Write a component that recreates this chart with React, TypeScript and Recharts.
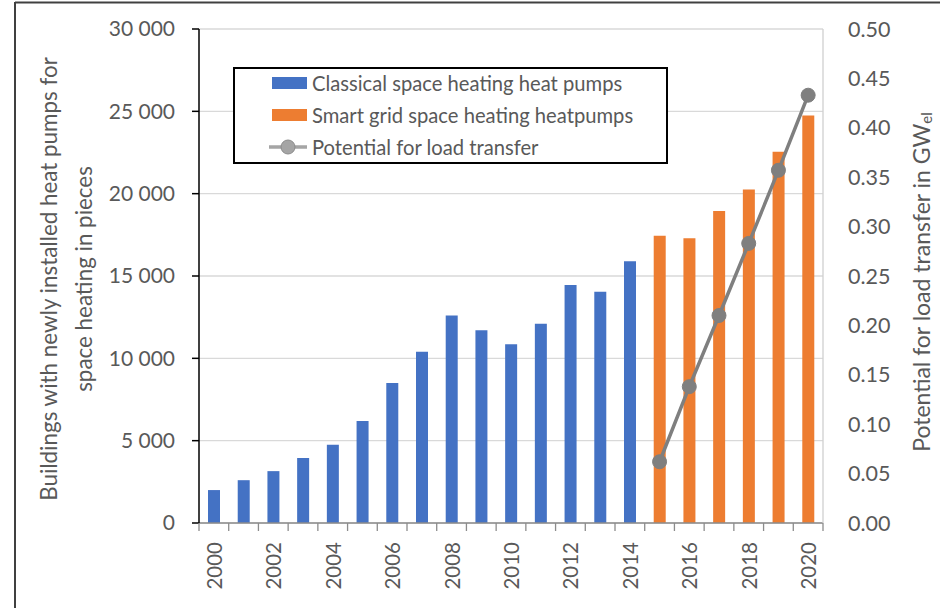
import React from 'react';
import { ComposedChart, Bar, Line, XAxis, YAxis, CartesianGrid, Legend } from 'recharts';

const years = ['2000', '2001', '2002', '2003', '2004', '2005', '2006', '2007', '2008', '2009', '2010', '2011', '2012', '2013', '2014', '2015', '2016', '2017', '2018', '2019', '2020'];
const classical = [2000, 2600, 3150, 3950, 4750, 6200, 8500, 10400, 12600, 11700, 10850, 12100, 14450, 14050, 15900, null, null, null, null, null, null];
const smartGrid = [null, null, null, null, null, null, null, null, null, null, null, null, null, null, null, 17450, 17300, 18950, 20250, 22550, 24750];
const loadTransfer = [null, null, null, null, null, null, null, null, null, null, null, null, null, null, null, 0.062, 0.138, 0.21, 0.283, 0.357, 0.433];
const leftTicks = [0, 5000, 10000, 15000, 20000, 25000, 30000];
const rightTicks = [0, 0.05, 0.1, 0.15, 0.2, 0.25, 0.3, 0.35, 0.4, 0.45, 0.5];
const legendLabels = ['Classical space heating heat pumps', 'Smart grid space heating heatpumps', 'Potential for load transfer'];
const leftTitle = ['Buildings with newly installed heat pumps for', 'space heating in pieces'];
const rightTitle = 'Potential for load transfer in GW';
const rightTitleSub = 'el';

const BLUE = '#4472C4';
const ORANGE = '#ED7D31';
const GREY = '#7f7f7f';
const TEXT = '#595959';
const FONT = 'Lato, "Open Sans", sans-serif';

const data = years.map((y, i) => ({
  year: y,
  classical: classical[i],
  smart: smartGrid[i],
  load: loadTransfer[i],
}));

const fmtLeft = (v: number) => {
  if (v === 0) return '0';
  const th = Math.floor(v / 1000);
  const rest = String(v % 1000).padStart(3, '0');
  return `${th} ${rest}`;
};

const XTick = (props: any) => {
  const { x, y, payload, index } = props;
  const half = payload && payload.offset ? payload.offset : 624 / 21 / 2;
  const isLast = index === years.length - 1;
  const showLabel = Number(payload.value) % 2 === 0;
  const ty = y + 19;
  return (
    <g>
      <line x1={x - half} x2={x - half} y1={y} y2={y + 8} stroke="#8c8c8c" strokeWidth={1.3} />
      {isLast && <line x1={x + half} x2={x + half} y1={y} y2={y + 8} stroke="#8c8c8c" strokeWidth={1.3} />}
      {showLabel && (
        <text
          x={x}
          y={ty}
          transform={`rotate(-90, ${x}, ${ty})`}
          textAnchor="end"
          dominantBaseline="central"
          fill={TEXT}
          fontSize={20.5}
          fontFamily={FONT}
        >
          {payload.value}
        </text>
      )}
    </g>
  );
};

const LeftTitle = (props: any) => {
  const cy = 279;
  return (
    <g>
      <text x={48} y={cy} transform={`rotate(-90, 48, ${cy})`} textAnchor="middle" dominantBaseline="central" fill={TEXT} fontSize={22.4} fontFamily={FONT}>
        {leftTitle[0]}
      </text>
      <text x={83} y={cy} transform={`rotate(-90, 83, ${cy})`} textAnchor="middle" dominantBaseline="central" fill={TEXT} fontSize={22.4} fontFamily={FONT}>
        {leftTitle[1]}
      </text>
    </g>
  );
};

const RightTitle = (props: any) => {
  const cx = 921;
  const cy = 282;
  return (
    <text x={cx} y={cy} transform={`rotate(-90, ${cx}, ${cy})`} textAnchor="middle" dominantBaseline="central" fill={TEXT} fontSize={23} fontFamily={FONT}>
      {rightTitle}
      <tspan fontSize={15} dy="0.35em">{rightTitleSub}</tspan>
    </text>
  );
};

const LegendBox = () => {
  const row: React.CSSProperties = { height: 32, display: 'flex', alignItems: 'center' };
  const label: React.CSSProperties = { marginLeft: 5, color: TEXT, fontSize: 20.2, fontFamily: FONT, whiteSpace: 'nowrap' };
  return (
    <div style={{ boxSizing: 'border-box', width: 435, height: 97, border: '2px solid #000', background: '#fff', paddingLeft: 37, overflow: 'hidden' }}>
      <div style={{ marginTop: -2 }}>
        <div style={row}>
          <div style={{ width: 35, height: 12, background: BLUE }} />
          <span style={label}>{legendLabels[0]}</span>
        </div>
        <div style={row}>
          <div style={{ width: 35, height: 12, background: ORANGE }} />
          <span style={label}>{legendLabels[1]}</span>
        </div>
        <div style={row}>
          <svg width={38} height={16} style={{ marginLeft: -3 }}>
            <line x1={0} x2={38} y1={8} y2={8} stroke="#a5a5a5" strokeWidth={3.5} />
            <circle cx={19} cy={8} r={7} fill="#a5a5a5" stroke="#8c8c8c" strokeWidth={1} />
          </svg>
          <span style={label}>{legendLabels[2]}</span>
        </div>
      </div>
    </div>
  );
};

export default function App() {
  return (
    <div style={{ position: 'absolute', left: 0, top: 0, width: 940, height: 608, background: '#fff' }}>
      <ComposedChart width={940} height={608} data={data} margin={{ top: 29, right: 0, bottom: 0, left: 0 }}>
        <CartesianGrid vertical={false} stroke="#d9d9d9" strokeWidth={1.3} yAxisId="left" />
        <XAxis
          dataKey="year"
          height={85}
          interval={0}
          tick={<XTick />}
          tickLine={false}
          tickSize={0}
          tickMargin={0}
          axisLine={{ stroke: '#8c8c8c', strokeWidth: 1.5 }}
        />
        <YAxis
          yAxisId="left"
          width={199}
          domain={[0, 30000]}
          ticks={leftTicks}
          interval={0}
          tickFormatter={fmtLeft}
          axisLine={{ stroke: '#000', strokeWidth: 1.5 }}
          tickLine={{ stroke: '#000', strokeWidth: 1.5 }}
          tickSize={7}
          tickMargin={17}
          tick={{ fill: TEXT, fontSize: 21, fontFamily: FONT }}
          label={<LeftTitle />}
        />
        <YAxis
          yAxisId="right"
          orientation="right"
          width={117}
          domain={[0, 0.5]}
          ticks={rightTicks}
          interval={0}
          tickFormatter={(v: number) => v.toFixed(2)}
          axisLine={{ stroke: '#d0d0d0', strokeWidth: 1.3 }}
          tickLine={false}
          tickSize={0}
          tickMargin={25}
          tick={{ fill: TEXT, fontSize: 21.5, fontFamily: FONT, textAnchor: 'start' }}
          label={<RightTitle />}
        />
        <Legend
          layout="vertical"
          align="center"
          verticalAlign="middle"
          content={<LegendBox />}
          wrapperStyle={{ position: 'absolute', left: 233, top: 67, width: 435, height: 97 }}
        />
        <Bar yAxisId="left" dataKey="classical" stackId="a" fill={BLUE} barSize={12} isAnimationActive={false} />
        <Bar yAxisId="left" dataKey="smart" stackId="a" fill={ORANGE} barSize={12} isAnimationActive={false} />
        <Line
          yAxisId="right"
          dataKey="load"
          stroke={GREY}
          strokeWidth={3.5}
          dot={{ r: 7, fill: GREY, stroke: GREY, strokeWidth: 1 }}
          activeDot={false}
          isAnimationActive={false}
        />
      </ComposedChart>
      <svg width={940} height={608} style={{ position: 'absolute', left: 0, top: 0, pointerEvents: 'none' }}>
        <line x1={15} x2={940} y1={2.5} y2={2.5} stroke="#404040" strokeWidth={2} />
        <line x1={15} x2={15} y1={2} y2={608} stroke="#404040" strokeWidth={2} />
      </svg>
    </div>
  );
}
